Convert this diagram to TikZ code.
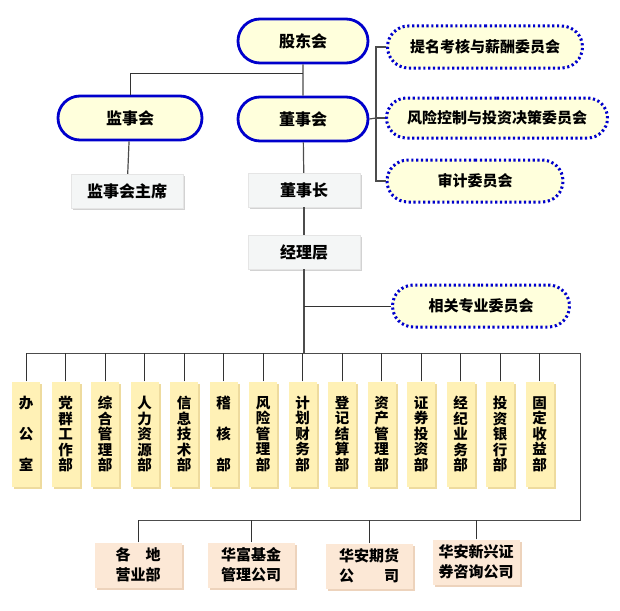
\documentclass[tikz,border=0pt]{standalone}
\usepackage{fontspec}
\setmainfont{Noto Sans CJK SC}
\usetikzlibrary{positioning, shapes.misc, shadows}
\definecolor{pillblue}{HTML}{0000CC}
\definecolor{pillfill}{HTML}{FFFFDC}
\definecolor{boxgray}{HTML}{F4F6F6}
\definecolor{deptyellow}{HTML}{FFF1B6}
\definecolor{deptshade}{HTML}{EEDB9E}
\definecolor{firmpeach}{HTML}{FCE8D6}
\definecolor{firmshade}{HTML}{EDD3BC}
\begin{document}
\begin{tikzpicture}[x=1pt, y=-1pt,
    board/.style={rounded rectangle, draw=pillblue, line width=2.8pt, fill=pillfill,
      minimum width=130pt, minimum height=44pt, inner sep=0pt,
      font=\bfseries\fontsize{16}{18}\selectfont},
    cmte/.style={rounded rectangle, draw=pillblue, line width=3pt, dash pattern=on 2.2pt off 2.6pt,
      fill=pillfill, minimum height=42pt, inner sep=0pt,
      font=\bfseries\fontsize{15}{17}\selectfont},
    office/.style={rectangle, draw=gray!20, fill=boxgray, minimum width=112pt, minimum height=34pt,
      drop shadow={shadow xshift=2pt, shadow yshift=-2pt, fill=gray!35, opacity=1},
      font=\bfseries\fontsize{16}{18}\selectfont},
    dept/.style={rectangle, fill=deptyellow, minimum width=28pt, minimum height=105pt, inner sep=0pt,
      align=center, drop shadow={shadow xshift=2pt, shadow yshift=-2pt, fill=deptshade, opacity=1},
      font=\bfseries\fontsize{14.5}{15.5}\selectfont},
    firm/.style={rectangle, fill=firmpeach, minimum width=87pt, minimum height=45pt, inner sep=0pt,
      align=center, drop shadow={shadow xshift=2pt, shadow yshift=-2pt, fill=firmshade, opacity=1},
      font=\bfseries\fontsize{15}{20}\selectfont},
    link/.style={draw=gray!60!black, line width=1.2pt},
    wire/.style={draw=black!80, line width=0.8pt}
  ]
  \useasboundingbox (0,0) rectangle (620,610);

  \node[board] (gdh) at (303,41) {股东会};
  \node[board, minimum width=144pt] (jsh) at (130,118) {监事会};
  \node[board] (dsh) at (303,119) {董事会};
  \node[office] (jsz) at (127,191) {监事会主席};
  \node[office] (dsz) at (304,190) {董事长};
  \node[office] (jlc) at (304,252) {经理层};

  \node[cmte, minimum width=195pt] (c1) at (485,47) {提名考核与薪酬委员会};
  \node[cmte, minimum width=221pt, minimum height=40pt] (c2) at (497,118) {风险控制与投资决策委员会};
  \node[cmte, minimum width=176pt] (c3) at (475,181) {审计委员会};
  \node[cmte, minimum width=177pt] (c4) at (481,306) {相关专业委员会};

  \foreach \i/\txt in {1/{办\\[15.5pt]公\\[15.5pt]室}, 2/{党\\群\\工\\作\\部}, 3/{综\\合\\管\\理\\部},
      4/{人\\力\\资\\源\\部}, 5/{信\\息\\技\\术\\部}, 6/{稽\\[15.5pt]核\\[15.5pt]部},
      7/{风\\险\\管\\理\\部}, 8/{计\\划\\财\\务\\部}, 9/{登\\记\\结\\算\\部},
      10/{资\\产\\管\\理\\部}, 11/{证\\券\\投\\资\\部}, 12/{经\\纪\\业\\务\\部},
      13/{投\\资\\银\\行\\部}, 14/{固\\定\\收\\益\\部}} {
    \node[dept] (d\i) at ({26+39.5*(\i-1)},434) {\txt};
  }

  \node[firm] (s1) at (138,565) {各\hspace{1em}地\\营业部};
  \node[firm] (s2) at (251,565) {华富基金\\管理公司};
  \node[firm] (s3) at (369,566) {华安期货\\公\hspace{2em}司};
  \node[firm] (s4) at (476,562) {华安新兴证\\券咨询公司};

  \coordinate (top) at (303,73);
  \coordinate (cb) at (376,118);
  \coordinate (br) at (580,353);
  \coordinate (bl) at (580,520);
  \coordinate (mid) at (jlc.south |- c4.west);
  \coordinate (bus) at (jlc.south |- br);

  \draw[link] (gdh) -- (dsh);
  \draw[wire] (top) -| (jsh.north);
  \draw[link] (jsh) -- (jsz);
  \draw[link] (dsh) -- (dsz);
  \draw[link] (dsz) -- (jlc);
  \draw[link] (dsh.east) -- (cb);
  \draw[link] (c1.west) -| (cb) |- (c3.west);
  \draw[link] (cb) -- (c2.west);
  \draw[link] (jlc.south) -- (bus);
  \draw[wire] (mid) -- (c4.west);

  \draw[link, line width=1pt] (d1.north |- br) -- (br) -- (bl) -- (s1.north |- bl);
  \foreach \i in {1,...,14} {
    \draw[wire] (d\i.north) -- (d\i.north |- br);
  }
  \foreach \i in {1,...,4} {
    \draw[wire] (s\i.north) -- (s\i.north |- bl);
  }
\end{tikzpicture}
\end{document}
